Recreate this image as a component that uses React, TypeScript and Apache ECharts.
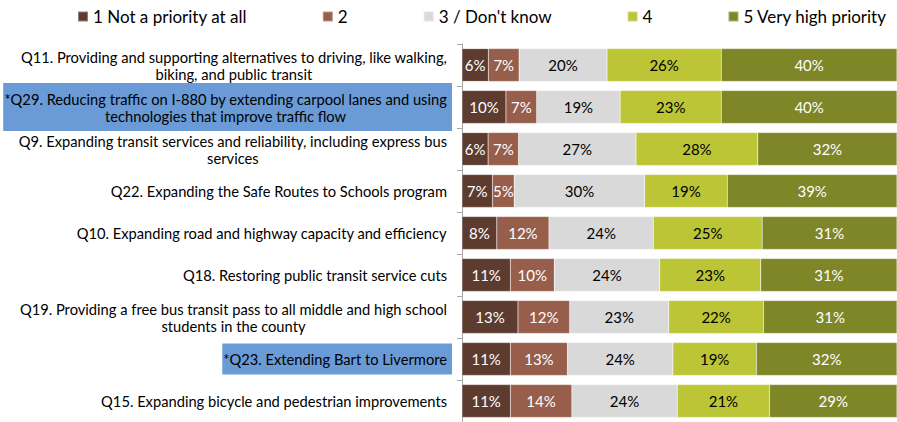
import React, { useEffect, useRef } from "react";
import * as echarts from "echarts";

const categories: string[] = [
  "Q11. Providing and supporting alternatives to driving, like walking,\nbiking, and public transit",
  "*Q29. Reducing traffic on I-880 by extending carpool lanes and using\ntechnologies that improve traffic flow",
  "Q9. Expanding transit services and reliability, including express bus\nservices",
  "Q22. Expanding the Safe Routes to Schools program",
  "Q10. Expanding road and highway capacity and efficiency",
  "Q18. Restoring public transit service cuts",
  "Q19. Providing a free bus transit pass to all middle and high school\nstudents in the county",
  "*Q23. Extending Bart to Livermore",
  "Q15. Expanding bicycle and pedestrian improvements",
];
const highlighted: boolean[] = [false, true, false, false, false, false, false, true, false];

const seriesNames: string[] = [
  "1 Not a priority at all",
  "2",
  "3 / Don't know",
  "4",
  "5 Very high priority",
];
const notPriority: number[] = [6, 10, 6, 7, 8, 11, 13, 11, 11];
const two: number[] = [7, 7, 7, 5, 12, 10, 12, 13, 14];
const dontKnow: number[] = [20, 19, 27, 30, 24, 24, 23, 24, 24];
const four: number[] = [26, 23, 28, 19, 25, 23, 22, 19, 21];
const veryHigh: number[] = [40, 40, 32, 39, 31, 31, 31, 32, 29];

const colors: string[] = ["#5E3B2F", "#965E4B", "#D9D9D9", "#BCC535", "#7E8628"];
const labelColors: string[] = ["#FFFFFF", "#FFFFFF", "#000000", "#000000", "#FFFFFF"];

const FONT = "Lato";

export default function App() {
  const ref = useRef<HTMLDivElement>(null);
  useEffect(() => {
    if (!ref.current) return;
    const chart = echarts.init(ref.current, undefined, { renderer: "svg" });
    const all = [notPriority, two, dontKnow, four, veryHigh];
    const totals = categories.map((_, i) => all.reduce((s, arr) => s + arr[i], 0));
    chart.setOption({
      animation: false,
      textStyle: { fontFamily: FONT },
      legend: {
        top: 3,
        left: 72,
        itemWidth: 10,
        itemHeight: 10,
        itemGap: 75,
        icon: "rect",
        textStyle: { fontSize: 17, color: "#000", fontFamily: FONT },
        data: seriesNames,
      },
      grid: { left: 462, right: 0, top: 44, bottom: -7, containLabel: false },
      xAxis: { type: "value", min: 0, max: 100, show: false },
      yAxis: {
        type: "category",
        inverse: true,
        data: categories.map((c, i) =>
          highlighted[i]
            ? { value: c, textStyle: { backgroundColor: "#6A9BD6" } }
            : { value: c }
        ),
        axisLine: { show: true, lineStyle: { color: "#A6A6A6", width: 1 } },
        axisTick: { show: true, length: 5, lineStyle: { color: "#A6A6A6" } },
        axisLabel: {
          margin: 10,
          padding: [7, 5, 7, 1],
          color: "#000",
          fontFamily: FONT,
          fontSize: 14.7,
          formatter: (v: string) =>
            v
              .split("\n")
              .map((l) => `{c|${l}}`)
              .join("\n"),
          rich: {
            c: { align: "center", fontSize: 14.7, lineHeight: 17, color: "#000", fontFamily: FONT },
          },
        },
      },
      series: all.map((arr, k) => ({
        name: seriesNames[k],
        type: "bar",
        stack: "total",
        barCategoryGap: "22%",
        itemStyle: { color: colors[k], borderColor: "rgba(255,255,255,0.35)", borderWidth: 0.5 },
        label: {
          show: true,
          position: "inside",
          color: labelColors[k],
          fontSize: 15,
          fontFamily: FONT,
          formatter: (p: any) => `${arr[p.dataIndex]}%`,
        },
        data: arr.map((v, i) => (v / totals[i]) * 100),
      })),
    });
    return () => chart.dispose();
  }, []);
  return (
    <div
      ref={ref}
      style={{ position: "fixed", left: 0, top: 0, width: 897, height: 422, background: "#fff" }}
    />
  );
}
